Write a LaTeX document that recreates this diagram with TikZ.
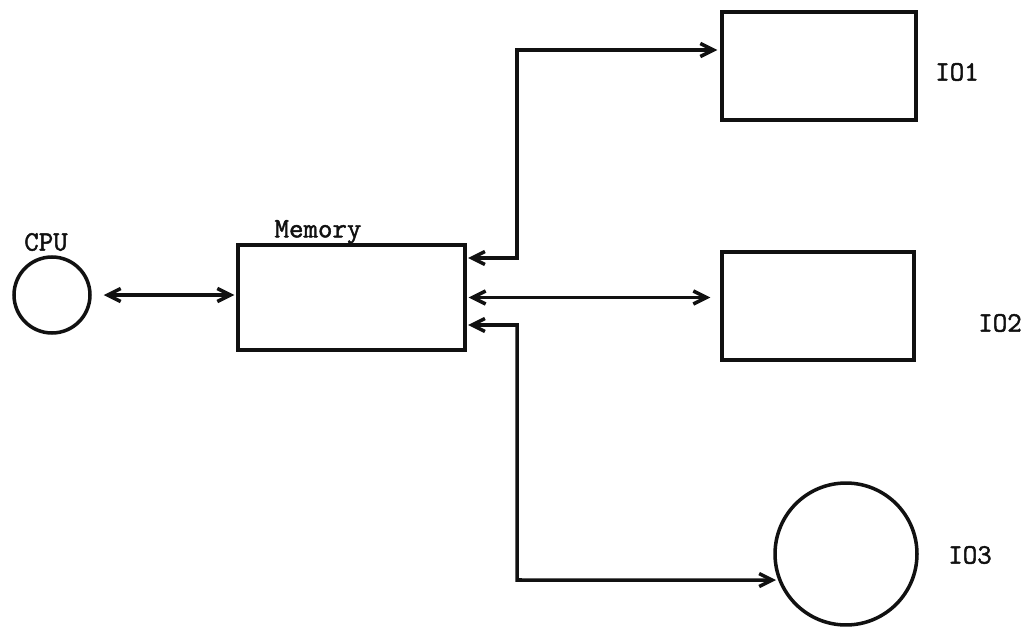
\documentclass[tikz,border=0pt]{standalone}
\usepackage{fontspec}
\newfontfamily\typerfont{Latin Modern Mono}[FakeBold=1.6]
\usepackage{xcolor}
\usepackage{tikz}
\usetikzlibrary{positioning,arrows.meta,calc}
\definecolor{ink}{HTML}{111111}
\definecolor{paper}{HTML}{FFFFFF}

\tikzset{
  unitbox/.style={draw=ink, line width=2pt, rectangle, inner sep=0pt},
  unitdisk/.style={draw=ink, line width=2pt, circle, inner sep=0pt},
  bus/.style={draw=ink, line width=2pt, {Straight Barb[length=0.26cm,width=0.26cm]}-{Straight Barb[length=0.26cm,width=0.26cm]}},
  tag/.style={text=ink, inner sep=0pt, font=\typerfont\fontsize{16}{18}\selectfont}
}

\begin{document}
\begin{tikzpicture}[x=0.02cm, y=-0.02cm]
  \useasboundingbox[fill=paper] (0,0) rectangle (1027,628);

  % units
  \node[unitdisk, minimum size=1.52cm] (cpu) at (52,295) {};
  \node[unitbox, minimum width=4.54cm, minimum height=2.1cm] (mem) at (351.5,297.5) {};
  \node[unitbox, minimum width=3.88cm, minimum height=2.16cm] (io1) at (819,66) {};
  \node[unitbox, minimum width=3.84cm, minimum height=2.16cm] (io2) at (818,306) {};
  \node[unitdisk, minimum size=2.84cm] (io3) at (846,554) {};

  % names
  \node[tag] (cpuname) at (46,242) {CPU};
  \node[tag] (memname) at (318,232) {Memory};
  \node[tag] (io1name) at (957,72) {IO1};
  \node[tag] (io2name) at (1000,323) {IO2};
  \node[tag] (io3name) at (970,555) {IO3};

  % bends of the buses
  \coordinate (up) at (517,50);
  \coordinate (down) at (517,580);
  \coordinate (in1) at (465,258);
  \coordinate (in3) at (465,325);

  % buses
  \draw[bus, shorten <=0.24cm, shorten >=0.04cm] (cpu.east) -- (cpu.east -| mem.west);
  \draw[bus, shorten <=0.04cm, shorten >=0.2cm] (mem.east) -- (mem.east -| io2.west);
  \draw[bus, shorten <=0.06cm, shorten >=0.06cm] (in1) -| (up) -- (up -| io1.west);
  \draw[bus, shorten <=0.06cm, shorten >=0.04cm] (in3) -| (down) -- (io3.201);
\end{tikzpicture}
\end{document}
